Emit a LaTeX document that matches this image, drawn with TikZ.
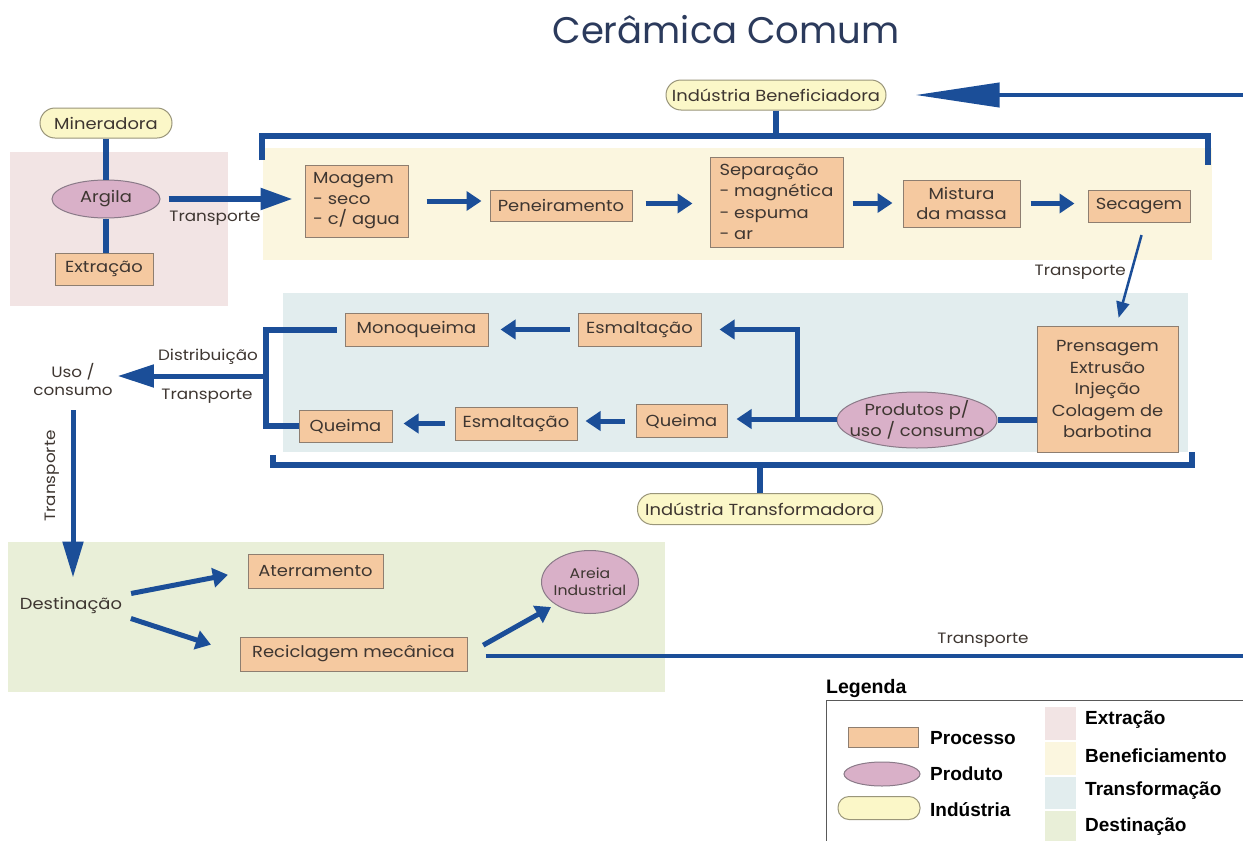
\documentclass[tikz,border=0pt]{standalone}
\usepackage{fontspec}
\setmainfont{Poppins}[FakeStretch=1.12]
\newfontfamily\titlefont{Poppins}
\newfontfamily\legfont{Liberation Sans}
\usetikzlibrary{arrows.meta,shapes.geometric}
\definecolor{bl}{HTML}{1B4E98}
\definecolor{procf}{HTML}{F5C9A0}
\definecolor{procd}{HTML}{8E7E70}
\definecolor{prodf}{HTML}{D9B0C8}
\definecolor{prodd}{HTML}{8A7A88}
\definecolor{indf}{HTML}{FBF7C8}
\definecolor{indd}{HTML}{9A967A}
\definecolor{pinkbg}{HTML}{F2E4E4}
\definecolor{yelbg}{HTML}{FBF6DF}
\definecolor{tealbg}{HTML}{E2EDEE}
\definecolor{grnbg}{HTML}{E9EFD8}
\definecolor{txt}{HTML}{3E3631}
\definecolor{titlec}{HTML}{2B3A5C}
\newcommand{\dtext}{\fontsize{16}{20.5}\selectfont}
\newcommand{\stext}{\fontsize{15}{18}\selectfont}
\newcommand{\lgtext}{\legfont\bfseries\fontsize{19}{22}\selectfont}
\begin{document}
\begin{tikzpicture}[x=1pt,y=-1pt,
  proc/.style={draw=procd,fill=procf,line width=1pt,inner sep=0pt,font=\dtext,text=txt},
  prod/.style={ellipse,draw=prodd,fill=prodf,line width=1pt,inner sep=0pt,font=\dtext,text=txt,align=center},
  ind/.style={draw=indd,fill=indf,line width=1pt,inner sep=0pt,font=\dtext,text=txt},
  lbl/.style={font=\stext,text=txt,inner sep=1pt},
  legt/.style={font=\lgtext,anchor=west,inner sep=0pt},
  thk/.style={draw=bl,line width=6pt},
  arr/.style={draw=bl,line width=5pt,-{Triangle[length=15pt,width=19pt]}},
  bigarr/.style={draw=bl,line width=5.5pt,-{Triangle[length=32pt,width=21pt]}},
  thinarr/.style={draw=bl,line width=2.5pt,-{Triangle[length=16pt,width=13pt]}}]
\useasboundingbox (0,0) rectangle (1243,841);
\fill[white] (0,0) rectangle (1243,841);
% regions
\fill[pinkbg] (10,152) rectangle (228,306);
\fill[yelbg] (263,148) rectangle (1212,260);
\fill[tealbg] (283,293) rectangle (1188,452);
\fill[grnbg] (8,542) rectangle (665,692);
% title
\node[font=\titlefont\fontsize{37}{42}\selectfont,text=titlec] (title) at (726,30) {Cerâmica Comum};
% extraction
\node[ind,rounded corners=15pt,minimum width=132pt,minimum height=30pt] (miner) at (106,123) {Mineradora};
\node[prod,minimum width=108pt,minimum height=38pt] (argila) at (106,199) {Argila};
\node[proc,minimum width=98pt,minimum height=32pt] (extr) at (104,269) {Extração};
\draw[thk] (miner) -- (argila);
\draw[thk] (argila) -- (argila |- extr.north);
% beneficiamento
\node[ind,rounded corners=15pt,minimum width=220pt,minimum height=30pt] (indB) at (776,95) {Indústria Beneficiadora};
\node[proc,minimum width=103pt,minimum height=72pt,align=left] (moagem) at (356.5,201) {Moagem\\- seco\\- c/ agua};
\node[proc,minimum width=142pt,minimum height=31pt] (penei) at (561,205.5) {Peneiramento};
\node[proc,minimum width=133pt,minimum height=90pt,align=left,font=\fontsize{16}{21.5}\selectfont] (separ) at (776.5,202) {Separação\\- magnética\\- espuma\\- ar};
\node[proc,minimum width=117pt,minimum height=47pt,align=center] (mist) at (961.5,203.5) {Mistura\\da massa};
\node[proc,minimum width=102pt,minimum height=32pt] (secag) at (1139,206) {Secagem};
\draw[bigarr,shorten <=8pt,shorten >=12pt] (argila.east) -- (argila.east -| moagem.west);
\node[lbl] (tr1) at (215,218) {Transporte};
\draw[arr,shorten <=18pt,shorten >=8pt] (moagem.east) -- (moagem.east -| penei.west);
\draw[arr,shorten <=13pt,shorten >=17pt] (penei.east) ++(0,-2) coordinate (pe) (pe) -- (pe -| separ.west);
\draw[arr,shorten <=9pt,shorten >=10pt] ([yshift=-1pt]separ.east) -- ([yshift=-1pt]separ.east -| mist.west);
\draw[arr,shorten <=10pt,shorten >=13pt] (mist.east) -- (mist.east -| secag.west);
% top bracket
\draw[thk] (262,160) -- (262,136) -- (1208,136) -- (1208,165);
\draw[thk] (indB.south) -- (indB.south |- 0,136);
\coordinate (topright) at (1243,95);
\draw[draw=bl,line width=4pt,-{Triangle[length=84pt,width=24pt]},shorten >=29pt] (topright) -- (indB.east);
% transformacao
\node[proc,minimum width=141pt,minimum height=126pt,align=center,font=\fontsize{16}{21.5}\selectfont] (prens) at (1107.5,389) {Prensagem\\Extrusão\\Injeção\\Colagem de\\barbotina};
\node[prod,minimum width=160pt,minimum height=56pt,inner xsep=-13pt] (produtos) at (917,420) {Produtos p/\\uso / consumo};
\node[proc,minimum width=91pt,minimum height=33pt] (queimaR) at (681.5,421) {Queima};
\node[proc,minimum width=122pt,minimum height=33pt] (esmB) at (516,423.5) {Esmaltação};
\node[proc,minimum width=93pt,minimum height=32pt] (queimaL) at (345.5,426) {Queima};
\node[proc,minimum width=143pt,minimum height=33pt] (monoq) at (416.5,329.5) {Monoqueima};
\node[proc,minimum width=123pt,minimum height=33pt] (esmT) at (639.5,329.5) {Esmaltação};
\draw[thinarr,shorten <=13pt,shorten >=8pt] ([xshift=6pt]secag.south) -- ([xshift=9pt]prens.north);
\node[lbl,anchor=east] (tr2) at (1127,272) {Transporte};
\draw[thk] (produtos.east) -- (produtos.east -| prens.west);
\coordinate (br) at (797,419);
\draw[arr,shorten >=9pt] (produtos.west |- br) -- (br -| queimaR.east);
\draw[arr,shorten >=18pt] (br) |- (esmT.east);
\draw[arr,shorten <=11pt,shorten >=8pt] (queimaR.west) -- (queimaR.west -| esmB.east);
\draw[arr,shorten <=10pt,shorten >=11pt] (esmB.west) -- (esmB.west -| queimaL.east);
\draw[arr,shorten <=8pt,shorten >=12pt] (esmT.west) -- (esmT.west -| monoq.east);
% left bracket
\coordinate (lb) at (266,376);
\draw[thk,shorten <=8pt] (monoq.west) -| (lb) |- (queimaL.west);
\node[font=\stext,text=txt,align=center,inner sep=1pt] (uso) at (73,379) {Uso /\\consumo};
\draw[bigarr,line width=5pt,-{Triangle[length=36pt,width=22pt]},shorten >=4pt] (lb) -- (lb -| uso.east);
\node[lbl] (dist) at (208,357) {Distribuição};
\node[lbl] (tr3) at (207,396) {Transporte};
% bottom bracket
\draw[thk] (273,455) -- (273,465) -- (1192,465) -- (1192,452);
\node[ind,rounded corners=15pt,minimum width=245pt,minimum height=31pt] (indT) at (760,509) {Indústria Transformadora};
\draw[thk] (indT.north) -- (indT.north |- 0,465);
% destinacao
\node[lbl,font=\dtext] (dest) at (71,605) {Destinação};
\draw[bigarr,line width=5pt,-{Triangle[length=36pt,width=20pt]},shorten <=14pt,shorten >=18pt] (uso.south) -- (uso.south |- dest.north);
\node[lbl,rotate=90] (tr4) at (52,476) {Transporte};
\node[proc,minimum width=135pt,minimum height=34pt] (ater) at (315.5,571) {Aterramento};
\node[proc,minimum width=227pt,minimum height=34pt] (recic) at (353.5,654) {Reciclagem mecânica};
\node[prod,minimum width=97pt,minimum height=63pt,font=\fontsize{14}{17}\selectfont,inner xsep=-11pt] (areia) at (590,582) {Areia\\Industrial};
\draw[arr,shorten <=8pt,shorten >=20pt] ([yshift=10pt]dest.east) -- (ater.west);
\draw[arr,shorten <=8pt,shorten >=30pt] ([yshift=-11pt]dest.east) -- (recic.west);
\draw[arr,shorten <=18pt,shorten >=5pt] (recic.east) -- (areia.south west);
\coordinate (botright) at (1243,656);
\draw[draw=bl,line width=4pt,shorten <=18pt] (recic.east |- botright) -- (botright);
\node[lbl] (tr5) at (983,640) {Transporte};
% legend
\node[legt,font=\legfont\bfseries\fontsize{19.5}{22}\selectfont] (leg) at (826,688) {Legenda};
\draw[gray!70!black,line width=1pt] (826,845) -- (826,700) -- (1250,700);
\node[draw=procd,fill=procf,line width=1pt,minimum width=70pt,minimum height=20pt,inner sep=0pt] (lproc) at (883,737) {};
\node[legt] (lproct) at (930,738) {Processo};
\node[ellipse,draw=prodd,fill=prodf,line width=1pt,minimum width=76pt,minimum height=24pt,inner sep=0pt] (lprod) at (882,774) {};
\node[legt] (lprodt) at (930,774) {Produto};
\node[draw=indd,fill=indf,line width=1pt,rounded corners=11pt,minimum width=82pt,minimum height=23pt,inner sep=0pt] (lind) at (879,808) {};
\node[legt] (lindt) at (930,810) {Indústria};
\fill[pinkbg] (1045,707) rectangle (1076,740);
\fill[yelbg] (1045,742) rectangle (1076,775);
\fill[tealbg] (1045,777) rectangle (1076,809);
\fill[grnbg] (1045,811) rectangle (1076,841);
\node[legt] (lg1) at (1085,720) {Extração};
\node[legt] (lg2) at (1085,756) {Beneficiamento};
\node[legt] (lg3) at (1085,791) {Transformação};
\node[legt] (lg4) at (1085,827) {Destinação};
\end{tikzpicture}
\end{document}
